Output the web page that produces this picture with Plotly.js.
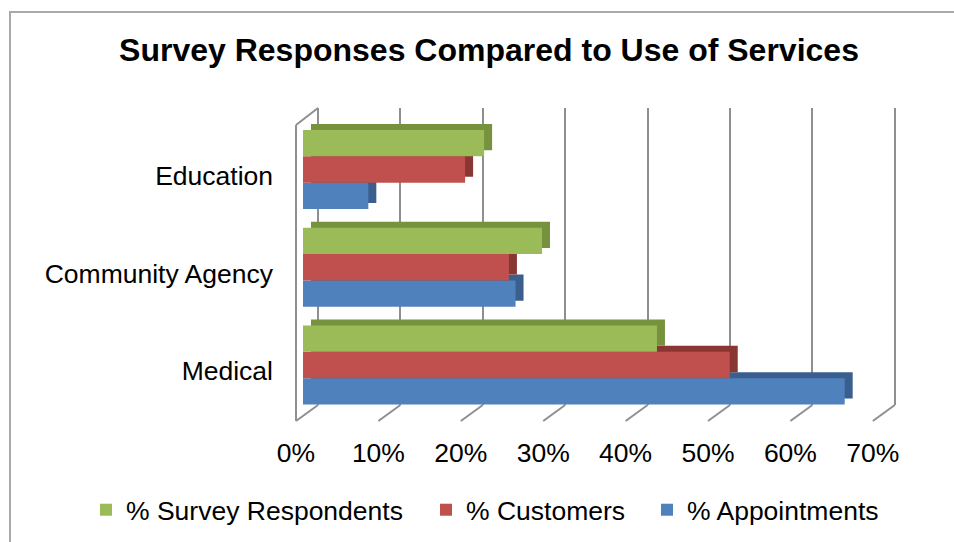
<!DOCTYPE html>
<html>
<head>
<meta charset="utf-8">
<script src="https://cdn.plot.ly/plotly-3.0.1.min.js"></script>
<style>
  html, body { margin: 0; padding: 0; background: #ffffff; overflow: hidden; }
  #frame { position: absolute; left: 9px; top: 11px; width: 980px; height: 560px;
           border-left: 2px solid #a9a9a9; border-top: 2px solid #a9a9a9; }
  #chart { position: absolute; left: 0; top: 0; width: 954px; height: 542px; }
</style>
</head>
<body>
<div id="frame"></div>
<div id="chart"></div>
<script>
// ---- data ----
const categories   = ['Medical', 'Community Agency', 'Education'];
const appointments = [0.655, 0.257, 0.079];
const customers    = [0.516, 0.249, 0.196];
const survey       = [0.428, 0.289, 0.219];
const seriesNames  = ['% Appointments', '% Customers', '% Survey Respondents'];
const tickVals     = [0, 0.1, 0.2, 0.3, 0.4, 0.5, 0.6, 0.7];

const faceColors   = ['#4F81BD', '#C0504D', '#9BBB59'];
const sideColors   = ['#3A5F8E', '#8A3734', '#76923C'];
const values       = [appointments, customers, survey];
const legendIds    = ['legend3', 'legend2', 'legend'];

const traces = [];
// depth faces (drawn behind, shifted up/right via offset axes)
values.forEach((v, i) => {
  traces.push({
    type: 'bar', orientation: 'h', x: v, y: categories,
    xaxis: 'x', yaxis: 'y',
    marker: { color: sideColors[i], line: { width: 0 } },
    showlegend: false, hoverinfo: 'skip'
  });
});
// front faces
values.forEach((v, i) => {
  traces.push({
    type: 'bar', orientation: 'h', x: v, y: categories,
    xaxis: 'x2', yaxis: 'y2', name: seriesNames[i],
    legend: legendIds[i],
    marker: { color: faceColors[i], line: { width: 0 } }
  });
});

const gridColor = '#8f8f8f';
const shapes = [];
const frontOff = 22 / 824;
tickVals.forEach(t => {
  shapes.push({ type: 'line', xref: 'x3', yref: 'paper',
    x0: t - frontOff, y0: -16 / 297, x1: t, y1: 0,
    line: { color: gridColor, width: 2 } });
});
// left wall
shapes.push({ type: 'line', xref: 'x3', yref: 'paper',
  x0: -frontOff, y0: -16 / 297, x1: -frontOff, y1: 280 / 297,
  line: { color: gridColor, width: 2 } });
shapes.push({ type: 'line', xref: 'x3', yref: 'paper',
  x0: -frontOff, y0: 280 / 297, x1: 0, y1: 1,
  line: { color: gridColor, width: 2 } });

const FONT = 'Liberation Sans, Arial, sans-serif';
const hidden = { showgrid: false, zeroline: false, showticklabels: false, ticks: '', showline: false };
const legendBase = { orientation: 'h', xref: 'container', yref: 'container',
  yanchor: 'middle', y: 1 - 510 / 542, xanchor: 'left',
  font: { family: FONT, size: 26.5, color: '#000' },
  bgcolor: 'rgba(0,0,0,0)' };

const layout = {
  width: 954, height: 542,
  margin: { l: 280, r: 49, t: 108, b: 137, pad: 0 },
  paper_bgcolor: 'rgba(0,0,0,0)', plot_bgcolor: 'rgba(0,0,0,0)',
  font: { family: FONT, color: '#000' },
  title: { text: '<b>Survey Responses Compared to Use of Services</b>',
    font: { size: 32, color: '#000', family: FONT },
    xref: 'container', yref: 'container', x: 489 / 954, xanchor: 'center',
    y: 1 - 50 / 542, yanchor: 'middle' },
  barmode: 'group', bargap: 0.19, bargroupgap: 0,
  xaxis: Object.assign({ range: [(280 - 311) / 827, (905 - 311) / 827] }, hidden),
  yaxis: Object.assign({ type: 'category', range: [-(405 - 359) / 97.75, 2 + (163.5 - 108) / 97.75] }, hidden),
  xaxis2: Object.assign({ overlaying: 'x', anchor: 'y2', range: [(280 - 303) / 827, (905 - 303) / 827] }, hidden),
  yaxis2: { overlaying: 'y', anchor: 'x2', type: 'category',
    range: [-(405 - 365) / 97.75, 2 + (169.5 - 108) / 97.75],
    showgrid: false, zeroline: false, showline: false, ticks: '',
    ticklabelstandoff: 6, ticklabelshift: 6,
    tickfont: { size: 26.5, color: '#000', family: FONT } },
  xaxis3: { overlaying: 'x', anchor: 'y', side: 'bottom',
    range: [(280 - 318) / 824, (905 - 318) / 824],
    tickmode: 'array', tickvals: tickVals, tickformat: '.0%',
    showgrid: true, gridcolor: gridColor, gridwidth: 2,
    zeroline: false, showline: false, ticks: '',
    ticklabelshift: -22, ticklabelstandoff: 29,
    tickfont: { size: 26.5, color: '#000', family: FONT } },
  legend:  Object.assign({}, legendBase, { x: 86 / 954 }),
  legend2: Object.assign({}, legendBase, { x: 426 / 954 }),
  legend3: Object.assign({}, legendBase, { x: 647 / 954 }),
  shapes: shapes,
  showlegend: true
};

Plotly.newPlot('chart', traces, layout, { displayModeBar: false, staticPlot: true });
</script>
</body>
</html>
